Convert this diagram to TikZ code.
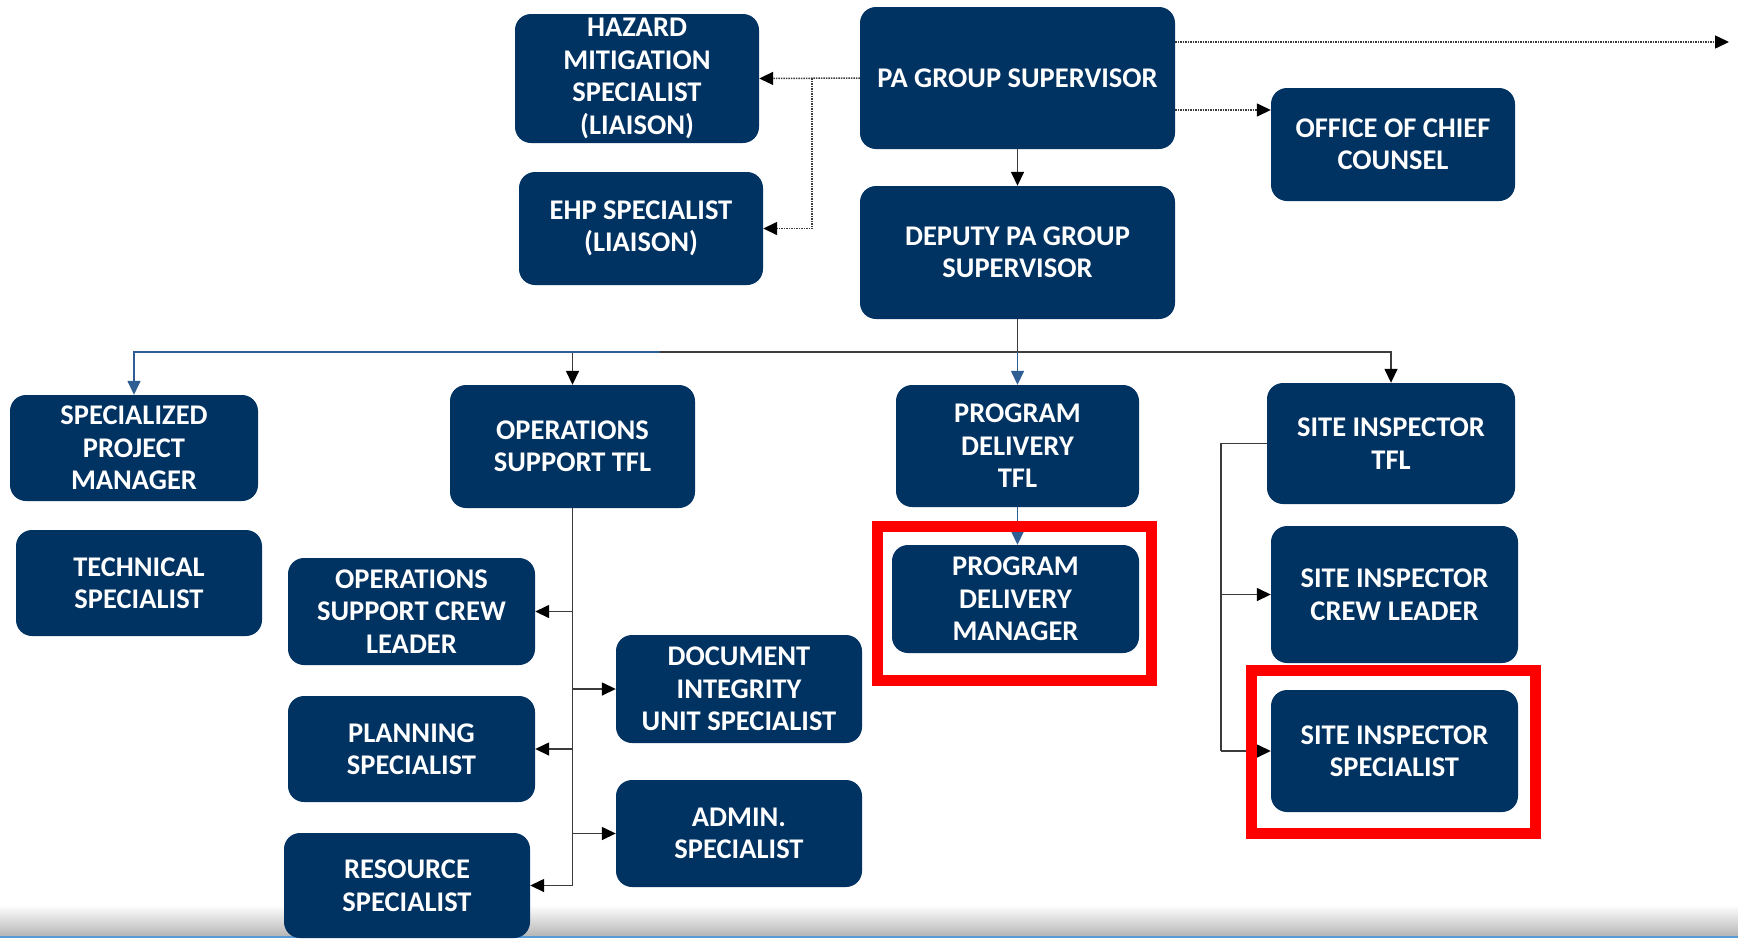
\documentclass[tikz,border=0pt]{standalone}
\usepackage{fontspec}
\setmainfont{Carlito}
\usetikzlibrary{arrows.meta}
\definecolor{navy}{RGB}{0,50,98}
\definecolor{linegray}{RGB}{60,60,60}
\definecolor{lineblue}{RGB}{46,94,148}
\definecolor{hired}{RGB}{255,0,0}
\definecolor{edgeblue}{RGB}{91,155,213}
\tikzset{
  box/.style={rounded corners=16pt, fill=navy, text=white, align=center, inner sep=0pt,
    font=\fontsize{28.5}{32.5}\selectfont\bfseries},
  gline/.style={draw=linegray, line width=1.5pt},
  conn/.style={gline, -{Triangle[length=14pt,width=13pt,black]}},
  bline/.style={draw=lineblue, line width=1.5pt},
  bconn/.style={bline, -{Triangle[length=14pt,width=13pt]}},
  dotconn/.style={draw=linegray, line width=1.5pt, densely dotted, -{Triangle[length=14pt,width=13pt,black]}},
  redframe/.style={draw=hired, line width=11pt}
}
\begin{document}
\begin{tikzpicture}[x=1pt,y=-1pt]
\useasboundingbox (0,0) rectangle (1738,938);
\shade[top color=white, bottom color=black!28] (0,905) rectangle (1738,935.5);
\fill[edgeblue] (0,935.5) rectangle (1738,938);

\node[box, minimum width=244pt, minimum height=129pt] (haz) at (637,78.5) {HAZARD\\MITIGATION\\SPECIALIST\\(LIAISON)};
\node[box, minimum width=244pt, minimum height=113pt] (ehp) at (641,228.5) {EHP SPECIALIST\\(LIAISON)};
\node[box, minimum width=315pt, minimum height=142pt] (pa) at (1017.5,78) {PA GROUP SUPERVISOR};
\node[box, minimum width=244pt, minimum height=113pt] (occ) at (1393,144.5) {OFFICE OF CHIEF\\COUNSEL};
\node[box, minimum width=315pt, minimum height=133pt] (dep) at (1017.5,252.5) {DEPUTY PA GROUP\\SUPERVISOR};
\node[box, minimum width=248pt, minimum height=106pt] (spm) at (134,448) {SPECIALIZED\\PROJECT\\MANAGER};
\node[box, minimum width=246pt, minimum height=106pt] (tech) at (139,583) {TECHNICAL\\SPECIALIST};
\node[box, minimum width=245pt, minimum height=123pt] (ost) at (572.5,446.5) {OPERATIONS\\SUPPORT TFL};
\node[box, minimum width=247pt, minimum height=107pt] (oscl) at (411.5,611.5) {OPERATIONS\\SUPPORT CREW\\LEADER};
\node[box, minimum width=247pt, minimum height=106pt] (plan) at (411.5,749) {PLANNING\\SPECIALIST};
\node[box, minimum width=246pt, minimum height=105pt] (res) at (407,885.5) {RESOURCE\\SPECIALIST};
\node[box, minimum width=246pt, minimum height=108pt] (doc) at (739,689) {DOCUMENT\\INTEGRITY\\UNIT SPECIALIST};
\node[box, minimum width=246pt, minimum height=107pt] (adm) at (739,833.5) {ADMIN.\\SPECIALIST};
\node[box, minimum width=243pt, minimum height=122pt] (pdt) at (1017.5,446) {PROGRAM\\DELIVERY\\TFL};
\node[box, minimum width=247pt, minimum height=108pt] (pdm) at (1015.5,599) {PROGRAM\\DELIVERY\\MANAGER};
\node[box, minimum width=248pt, minimum height=121pt] (sit) at (1391,443.5) {SITE INSPECTOR\\TFL};
\node[box, minimum width=247pt, minimum height=137pt] (sicl) at (1394.5,594.5) {SITE INSPECTOR\\CREW LEADER};
\node[box, minimum width=247pt, minimum height=122pt] (sis) at (1394.5,751) {SITE INSPECTOR\\SPECIALIST};

% PA group supervisor links
\draw[conn] (pa) -- (dep);
\coordinate (j1) at (812,78);
\draw[dotconn] (pa.west) -- (haz.east);
\draw[dotconn] (j1) |- (ehp.east);
\coordinate (farright) at (1729,42);
\draw[dotconn] ([yshift=36pt]pa.east) -- (farright);
\draw[dotconn] ([yshift=-32pt]pa.east) -- ([yshift=-32pt]pa.east -| occ.west);

% deputy branch
\coordinate (br) at (1017.5,352);
\coordinate (bl) at (660,352);
\draw[gline] (dep.south) -- (br);
\draw[conn] (bl) -| (sit.north);
\draw[conn] (ost.north |- br) -- (ost.north);
\draw[bconn] (bl) -| (spm.north);
\draw[bconn] (br) -- (pdt.north);

% operations support branch
\draw[gline] (ost.south) -- (ost.south |- res.east);
\draw[conn] (ost.south |- oscl.east) -- (oscl.east);
\draw[conn] (ost.south |- plan.east) -- (plan.east);
\draw[conn] (ost.south |- res.east) -- (res.east);
\draw[conn] (ost.south |- doc.west) -- (doc.west);
\draw[conn] (ost.south |- adm.west) -- (adm.west);

% program delivery
\draw[bconn] (pdt.south) -- (pdt.south |- pdm.north);

% site inspector branch
\coordinate (sj) at (1221,443.5);
\draw[gline] (sit.west) -- (sj) -- (sj |- sis.west);
\draw[conn] (sj |- sicl.west) -- (sicl.west);
\draw[conn] (sj |- sis.west) -- (sis.west);

% highlight frames
\draw[redframe] (877.5,526.5) rectangle (1151.5,680.5);
\draw[redframe] (1251.5,670.5) rectangle (1535.5,833.5);
\end{tikzpicture}
\end{document}
